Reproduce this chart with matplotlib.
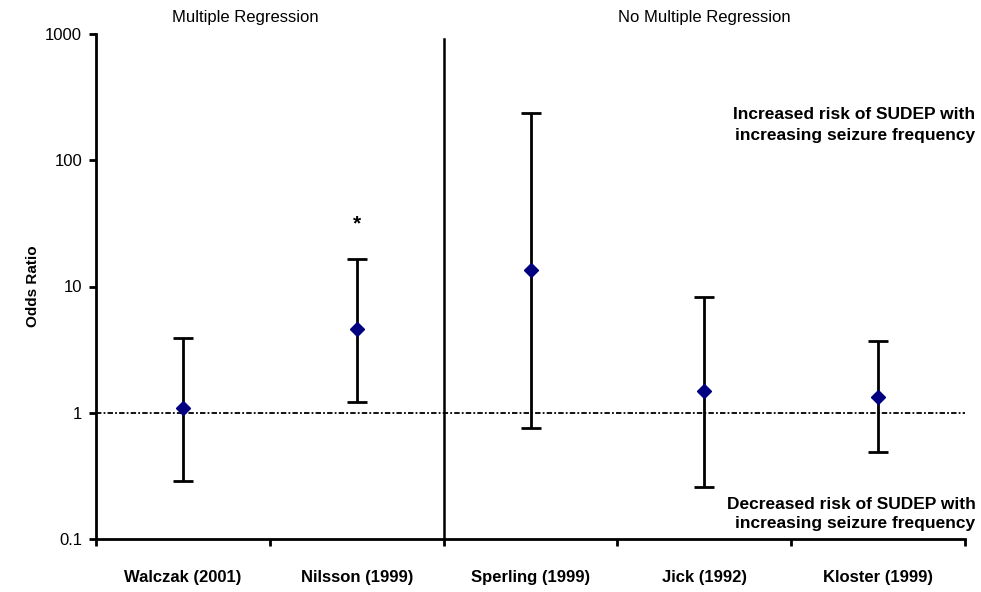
import matplotlib
matplotlib.use("Agg")
import matplotlib.pyplot as plt
import numpy as np

plt.rcParams["font.family"] = ["Liberation Sans", "DejaVu Sans"]

studies = ["Walczak (2001)", "Nilsson (1999)", "Sperling (1999)", "Jick (1992)", "Kloster (1999)"]
odds_ratio = [1.1, 4.6, 13.6, 1.5, 1.34]
ci_low = [0.29, 1.22, 0.76, 0.26, 0.49]
ci_high = [3.9, 16.6, 237, 8.2, 3.7]
significant = [False, True, False, False, False]
groups = ["Multiple Regression", "No Multiple Regression"]

x = np.arange(len(studies))
odds = np.array(odds_ratio)
err = [odds - np.array(ci_low), np.array(ci_high) - odds]

fig = plt.figure(figsize=(9.81, 5.92), dpi=100)
ax = fig.add_axes([96 / 981, 53 / 592, (965 - 96) / 981, (539 - 34) / 592])

ax.axhline(1, color="black", lw=1.3, ls=(0, (3, 1.2, 1, 1.2)), zorder=1)
ax.errorbar(x, odds, yerr=err, fmt="none", ecolor="black", elinewidth=2,
            capsize=7, capthick=2, zorder=2)
ax.plot(x, odds, ls="none", marker="D", color="#000080", markersize=7, zorder=3)

for xi, hi, sig in zip(x, ci_high, significant):
    if sig:
        ax.text(xi, hi * 1.9, "*", ha="center", va="center", fontsize=15, fontweight="bold")

ax.set_yscale("log")
ax.set_ylim(0.1, 1000)
ax.set_xlim(-0.5, len(studies) - 0.5)
ax.set_yticks([0.1, 1, 10, 100, 1000])
ax.set_yticklabels(["0.1", "1", "10", "100", "1000"])
ax.yaxis.set_minor_locator(matplotlib.ticker.NullLocator())
ax.set_xticks(np.arange(len(studies) + 1) - 0.5)
ax.set_xticklabels([])
ax.set_xticks(x, minor=True)
ax.set_xticklabels(studies, minor=True, fontsize=12, fontweight="bold")
ax.tick_params(axis="x", which="minor", length=0, pad=22)
ax.tick_params(axis="x", which="major", length=5, width=2, direction="out")
ax.tick_params(axis="y", length=5, width=2, labelsize=12, pad=5)

for side in ["top", "right"]:
    ax.spines[side].set_visible(False)
for side in ["left", "bottom"]:
    ax.spines[side].set_linewidth(2)

ax.axvline(1.5, ymin=0, ymax=0.99, color="black", lw=1.8)
ax.set_ylabel("Odds Ratio", fontsize=11, fontweight="bold")
ax.yaxis.set_label_coords(-0.064, 0.5)

ax.text(0.36, 1.017, groups[0], transform=ax.get_xaxis_transform(), ha="center",
        va="bottom", fontsize=12)
ax.text(3.0, 1.017, groups[1], transform=ax.get_xaxis_transform(), ha="center",
        va="bottom", fontsize=12)

ax.text(1.012, 0.82, "Increased risk of SUDEP with\nincreasing seizure frequency",
        transform=ax.transAxes, ha="right", va="center", fontsize=12.5,
        fontweight="bold", linespacing=1.5)
ax.text(1.012, 0.05, "Decreased risk of SUDEP with\nincreasing seizure frequency",
        transform=ax.transAxes, ha="right", va="center", fontsize=12.5,
        fontweight="bold", linespacing=1.35, clip_on=False)

fig.savefig("out.png", dpi=100)
